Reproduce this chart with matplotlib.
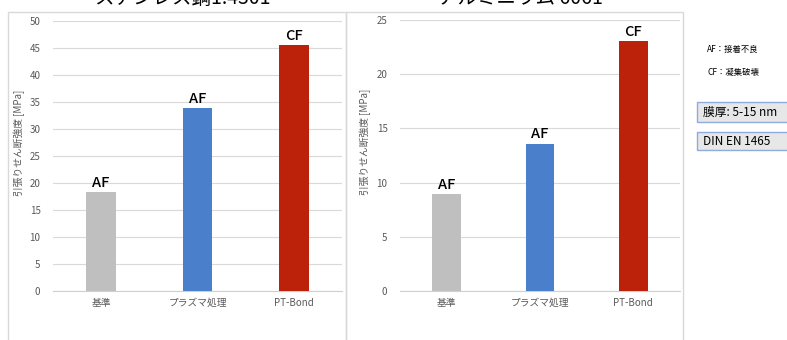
import matplotlib
matplotlib.use("Agg")
import matplotlib.pyplot as plt
from matplotlib.patches import Rectangle

plt.rcParams['font.family'] = ['Noto Sans CJK JP', 'DejaVu Sans']

# data
categories = ["基準", "プラズマ処理", "PT-Bond"]
steel_values = [18.3, 33.8, 45.5]
alu_values = [8.95, 13.6, 23.05]
steel_modes = ["AF", "AF", "CF"]
alu_modes = ["AF", "AF", "CF"]
titles = ["ステンレス鋼1.4301", "アルミニウム 6061"]
bar_colors = ["#bfbfbf", "#4a7fcb", "#bb2209"]
ylabel = "引張りせん断強度 [MPa]"

W, H = 787, 340
fig = plt.figure(figsize=(W / 100, H / 100), dpi=100)
fig.patch.set_facecolor("white")


def px_axes(x0, y_top, x1, y_bot):
    return fig.add_axes([x0 / W, (H - y_bot) / H, (x1 - x0) / W, (y_bot - y_top) / H])


# panel frames
for (x0, x1) in [(8, 346), (346, 683)]:
    fig.patches.append(Rectangle((x0 / W, -0.05), (x1 - x0) / W, (H - 12) / H + 0.05,
                                 transform=fig.transFigure, fill=False,
                                 edgecolor="#d9d9d9", lw=1.0, zorder=0))


def draw_panel(ax, values, modes, ymax, step, label_x):
    x = range(len(categories))
    ax.bar(x, values, width=0.31, color=bar_colors, zorder=3)
    for xi, v, m in zip(x, values, modes):
        ax.text(xi, v + ymax * 0.008, m, ha="center", va="bottom", fontsize=10.5,
                color="black", fontweight="medium")
    ax.set_ylim(0, ymax)
    ax.set_xlim(-0.5, len(categories) - 0.5)
    ax.set_yticks(range(0, ymax + 1, step))
    ax.set_xticks(list(x))
    ax.set_xticklabels(categories)
    ax.tick_params(axis="both", length=0, labelsize=7, colors="#595959")
    ax.tick_params(axis="y", pad=9)
    ax.tick_params(axis="x", pad=5)
    ax.grid(axis="y", color="#d9d9d9", lw=0.8, zorder=0)
    for s in ["top", "right", "left"]:
        ax.spines[s].set_visible(False)
    ax.spines["bottom"].set_color("#d0d0d0")
    ax.set_ylabel(ylabel, fontsize=7, color="#595959")
    ax.yaxis.set_label_coords(label_x, 0.55)
    ax.set_facecolor("none")


ax1 = px_axes(53, 21, 342, 291)
draw_panel(ax1, steel_values, steel_modes, 50, 5, -0.097)
ax2 = px_axes(400, 20, 680, 291)
draw_panel(ax2, alu_values, alu_modes, 25, 5, -0.104)

# titles, partly cut off at the top as in the source
fig.text(182 / W, 1 + 1 / H, titles[0], ha="center", va="center", fontsize=14)
fig.text(520 / W, 1 + 1 / H, titles[1], ha="center", va="center", fontsize=14)

# legend notes
fig.text(707 / W, 1 - 49 / H, "AF：接着不良", fontsize=6, va="center")
fig.text(707 / W, 1 - 72 / H, "CF：凝集破壊", fontsize=6, va="center")
for y_top, y_bot, txt in [(102, 122, "膜厚: 5-15 nm"), (132, 150, "DIN EN 1465")]:
    fig.patches.append(Rectangle((697 / W, 1 - y_bot / H), 100 / W, (y_bot - y_top) / H,
                                 transform=fig.transFigure, facecolor="#e7e7e7",
                                 edgecolor="#8faadc", lw=1.0))
    fig.text(703 / W, 1 - (y_top + y_bot) / 2 / H, txt, fontsize=8.5, va="center")

fig.savefig("out.png", dpi=100)
